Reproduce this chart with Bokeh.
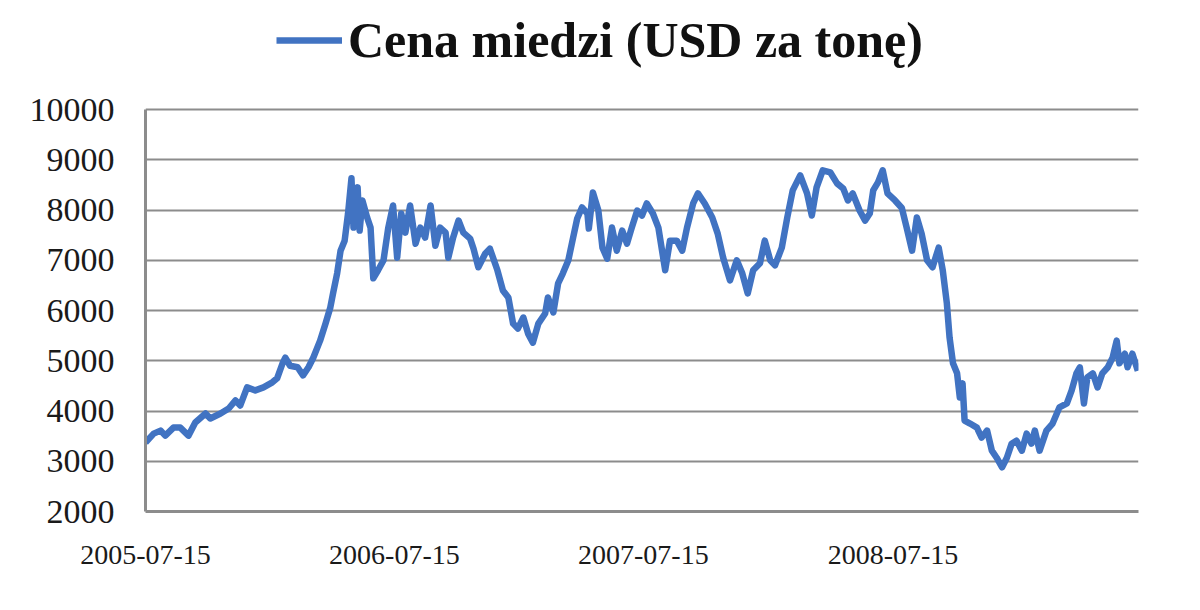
from datetime import datetime
from bokeh.plotting import figure
from bokeh.models import (Legend, LegendItem, FixedTicker, DatetimeTickFormatter,
                          Range1d, ColumnDataSource)
from bokeh.embed import file_html
from bokeh.resources import INLINE

series_name = "Cena miedzi (USD za tonę)"

dates = [
    "2005-07-15", "2005-07-27", "2005-08-06", "2005-08-13", "2005-08-25", "2005-09-04",
    "2005-09-16", "2005-09-26", "2005-10-11", "2005-10-18", "2005-11-02", "2005-11-14",
    "2005-11-24", "2005-12-01", "2005-12-11", "2005-12-23", "2006-01-04", "2006-01-17",
    "2006-01-24", "2006-02-01", "2006-02-05", "2006-02-12", "2006-02-23", "2006-03-03",
    "2006-03-11", "2006-03-18", "2006-03-28", "2006-04-05", "2006-04-12", "2006-04-16",
    "2006-04-22", "2006-04-27", "2006-05-03", "2006-05-08", "2006-05-13", "2006-05-16",
    "2006-05-22", "2006-05-25", "2006-05-29", "2006-06-05", "2006-06-10", "2006-06-14",
    "2006-06-21", "2006-06-29", "2006-07-06", "2006-07-13", "2006-07-19", "2006-07-25",
    "2006-07-31", "2006-08-07", "2006-08-15", "2006-08-22", "2006-08-29", "2006-09-06",
    "2006-09-13", "2006-09-20", "2006-09-28", "2006-10-02", "2006-10-09", "2006-10-17",
    "2006-10-24", "2006-11-03", "2006-11-08", "2006-11-15", "2006-11-25", "2006-12-02",
    "2006-12-13", "2006-12-21", "2006-12-29", "2007-01-05", "2007-01-12", "2007-01-20",
    "2007-01-27", "2007-02-03", "2007-02-11", "2007-02-21", "2007-02-25", "2007-03-05",
    "2007-03-12", "2007-03-19", "2007-03-27", "2007-04-03", "2007-04-09", "2007-04-16",
    "2007-04-24", "2007-04-26", "2007-05-02", "2007-05-10", "2007-05-16", "2007-05-23",
    "2007-05-30", "2007-06-06", "2007-06-14", "2007-06-21", "2007-06-28", "2007-07-06",
    "2007-07-13", "2007-07-20", "2007-07-29", "2007-08-06", "2007-08-16", "2007-08-23",
    "2007-09-02", "2007-09-10", "2007-09-17", "2007-09-26", "2007-10-03", "2007-10-13",
    "2007-10-24", "2007-11-01", "2007-11-09", "2007-11-19", "2007-11-29", "2007-12-07",
    "2007-12-15", "2007-12-23", "2008-01-02", "2008-01-09", "2008-01-17", "2008-01-24",
    "2008-02-03", "2008-02-11", "2008-02-19", "2008-03-01", "2008-03-11", "2008-03-18",
    "2008-03-25", "2008-04-03", "2008-04-14", "2008-04-24", "2008-05-03", "2008-05-10",
    "2008-05-17", "2008-05-27", "2008-06-04", "2008-06-11", "2008-06-16", "2008-06-23",
    "2008-06-30", "2008-07-07", "2008-07-18", "2008-07-28", "2008-08-04", "2008-08-12",
    "2008-08-19", "2008-08-26", "2008-09-03", "2008-09-11", "2008-09-20", "2008-09-26",
    "2008-10-02", "2008-10-06", "2008-10-11", "2008-10-17", "2008-10-21", "2008-10-25",
    "2008-10-28", "2008-11-05", "2008-11-15", "2008-11-22", "2008-11-30", "2008-12-07",
    "2008-12-14", "2008-12-22", "2008-12-29", "2009-01-05", "2009-01-12", "2009-01-20",
    "2009-01-27", "2009-02-03", "2009-02-08", "2009-02-15", "2009-02-25", "2009-03-06",
    "2009-03-16", "2009-03-27", "2009-04-03", "2009-04-10", "2009-04-15", "2009-04-21",
    "2009-04-26", "2009-05-04", "2009-05-11", "2009-05-18", "2009-05-26", "2009-06-02",
    "2009-06-08", "2009-06-12", "2009-06-20", "2009-06-24", "2009-07-01", "2009-07-09",
]

prices = [
    3373, 3550, 3610, 3510, 3670, 3670,
    3510, 3770, 3950, 3850, 3950, 4050,
    4210, 4110, 4470, 4410, 4470, 4570,
    4650, 4950, 5060, 4900, 4870, 4710,
    4870, 5060, 5400, 5740, 6060, 6340,
    6740, 7190, 7390, 7930, 8630, 7650,
    8450, 7590, 8190, 7850, 7650, 6640,
    6800, 7000, 7650, 8090, 7050, 7930,
    7550, 8090, 7330, 7650, 7450, 8090,
    7290, 7650, 7550, 7050, 7450, 7790,
    7550, 7430, 7230, 6860, 7130, 7230,
    6800, 6400, 6260, 5740, 5640, 5860,
    5540, 5360, 5740, 5940, 6260, 5960,
    6540, 6740, 7000, 7450, 7830, 8050,
    7930, 7630, 8350, 7990, 7250, 7030,
    7650, 7190, 7590, 7330, 7650, 7990,
    7890, 8130, 7930, 7650, 6800, 7390,
    7390, 7190, 7650, 8130, 8330, 8130,
    7850, 7530, 7050, 6600, 7000, 6740,
    6340, 6800, 6940, 7390, 7000, 6900,
    7250, 7850, 8390, 8690, 8330, 7890,
    8450, 8790, 8750, 8530, 8430, 8190,
    8330, 7990, 7790, 7930, 8390, 8550,
    8790, 8330, 8190, 8040, 7650, 7190,
    7850, 7530, 7000, 6860, 7250, 6800,
    6140, 5460, 4950, 4750, 4270, 4550,
    3810, 3750, 3670, 3470, 3610, 3210,
    3070, 2880, 3070, 3350, 3410, 3210,
    3550, 3350, 3610, 3210, 3610, 3750,
    4070, 4150, 4410, 4750, 4870, 4150,
    4670, 4750, 4470, 4750, 4870, 5060,
    5400, 4950, 5140, 4870, 5140, 4800,
]

x_tick_dates = ["2005-07-15", "2006-07-15", "2007-07-15", "2008-07-15"]
y_ticks = [2000, 3000, 4000, 5000, 6000, 7000, 8000, 9000, 10000]
x_start, x_end = "2005-07-15", "2009-07-10"

# layout geometry (screen px)
W, H = 1192, 602
frame_left, frame_right, frame_bottom = 145, 1138, 511
axis_top_px = 109      # where the 10000 gridline sits
top_pad = 0            # frame extends up to the top so the legend can live inside it
px_per_unit = (frame_bottom - axis_top_px) / (y_ticks[-1] - y_ticks[0])
y_top = y_ticks[-1] + (axis_top_px - top_pad) / px_per_unit

to_dt = lambda s: datetime.strptime(s, "%Y-%m-%d")
src = ColumnDataSource(data=dict(date=[to_dt(d) for d in dates], price=prices))

p = figure(width=W, height=H, output_backend="svg", toolbar_location=None,
           x_axis_type="datetime",
           x_range=Range1d(to_dt(x_start), to_dt(x_end)),
           y_range=Range1d(y_ticks[0], y_top))
p.min_border_left = frame_left
p.min_border_right = W - frame_right
p.min_border_top = top_pad
p.min_border_bottom = H - frame_bottom
p.outline_line_color = None
p.background_fill_color = "white"
p.border_fill_color = "white"

line_color = "#4173C2"
r = p.line("date", "price", source=src, line_color=line_color, line_width=6.5,
           line_join="round")

# axes
grid_col = "#8C8C8C"
p.xgrid.grid_line_color = None
p.ygrid.grid_line_color = grid_col
p.ygrid.grid_line_width = 2

p.yaxis.ticker = FixedTicker(ticks=y_ticks)
p.yaxis.bounds = (y_ticks[0], y_ticks[-1])
p.xaxis.ticker = FixedTicker(ticks=[to_dt(d).timestamp() * 1000 for d in x_tick_dates])
fmt = "%Y-%m-%d"
p.xaxis.formatter = DatetimeTickFormatter(
    microseconds=fmt, milliseconds=fmt, seconds=fmt, minsec=fmt, minutes=fmt,
    hourmin=fmt, hours=fmt, days=fmt, months=fmt, years=fmt)

for ax in (p.xaxis[0], p.yaxis[0]):
    ax.axis_line_color = grid_col
    ax.axis_line_width = 3
    ax.major_tick_line_color = None
    ax.minor_tick_line_color = None
    ax.major_tick_out = 0
    ax.major_tick_in = 0
    ax.minor_tick_out = 0
    ax.minor_tick_in = 0
    ax.major_label_text_font = "Liberation Serif"
    ax.major_label_text_color = "#1a1a1a"

p.yaxis.major_label_text_font_size = "34px"
p.yaxis.major_label_standoff = 31
p.xaxis.major_label_text_font_size = "28px"
p.xaxis.major_label_standoff = 34

legend = Legend(items=[LegendItem(label=series_name, renderers=[r])],
                location=(276 - frame_left, frame_bottom - 40 - 30),
                orientation="horizontal",
                label_text_font="Liberation Serif", label_text_font_style="bold",
                label_text_font_size="50px", label_text_color="#111111",
                glyph_width=66, glyph_height=60, label_height=60, label_standoff=6,
                padding=0, margin=0, spacing=0,
                background_fill_alpha=0, border_line_alpha=0)
p.add_layout(legend)

open("out.html", "w").write(file_html(p, INLINE))
